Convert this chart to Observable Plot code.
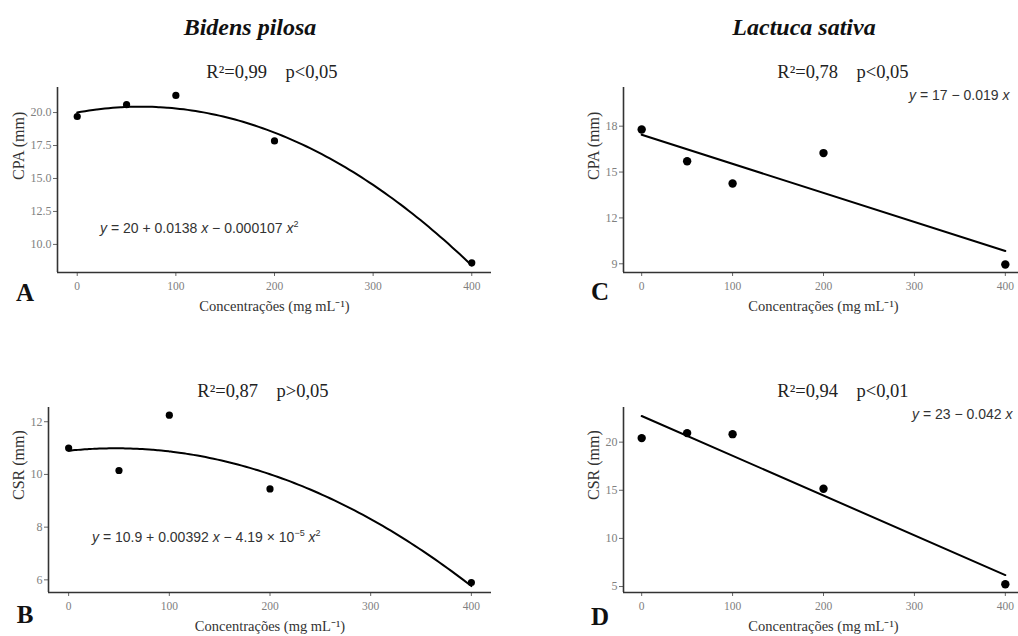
<!DOCTYPE html>
<html>
<head>
<meta charset="utf-8">
<script src="https://cdn.jsdelivr.net/npm/d3@7"></script>
<script src="https://cdn.jsdelivr.net/npm/@observablehq/plot@0.6"></script>
<style>
  html, body { margin: 0; padding: 0; background: #fff; }
  body { width: 1018px; height: 636px; position: relative; overflow: hidden; font-family: "Liberation Serif", serif; }
  .abs { position: absolute; white-space: pre; }
  .title { font-weight: bold; font-style: italic; font-size: 24px; color: #111; transform: translate(-50%, -50%); }
  .stat { font-size: 18.5px; color: #222; transform: translate(-50%, -50%); }
  .letter { font-weight: bold; font-size: 25px; color: #111; transform: translate(-50%, -50%); }
  .eq { font-family: "Liberation Sans", Arial, sans-serif; font-size: 14px; color: #333; transform: translateY(-50%); }
  .eq sup { font-size: 9px; vertical-align: 6px; line-height: 0; }
  .panel { position: absolute; }
</style>
</head>
<body>
<script>
// ---- data ----
const concentrations = [0, 50, 100, 200, 400];
const xTicks = [0, 100, 200, 300, 400];
const cpaBidens = [19.7, 20.6, 21.3, 17.85, 8.6];
const csrBidens = [11.0, 10.15, 12.25, 9.45, 5.9];
const cpaLactuca = [17.78, 15.71, 14.25, 16.24, 8.95];
const csrLactuca = [20.42, 20.94, 20.83, 15.16, 5.24];
// quadratic fit coefficients shown on the chart (Bidens pilosa)
const cpaBidensFit = [20, 0.0138, -0.000107];
const csrBidensFit = [10.9, 0.00392, -4.19e-5];
const yTicksA = [10, 12.5, 15, 17.5, 20];
const yTicksB = [6, 8, 10, 12];
const yTicksC = [9, 12, 15, 18];
const yTicksD = [5, 10, 15, 20];
const xLabel = "Concentrações (mg mL⁻¹)";

const SERIF = "Liberation Serif, Times New Roman, serif";

function rows(values) { return concentrations.map((x, i) => ({x, y: values[i]})); }
function quadCurve(c) {
  return d3.range(0, 401, 4).map(x => ({x, y: c[0] + c[1] * x + c[2] * x * x}));
}

function panel({left, top, width, height, margin, yDomain, yTicks, yFormat, yLabel, yLabelDx, data, fit, linear, r}) {
  const marks = [
    Plot.axisX(xTicks, {tickSize: 4, tickPadding: 5, fontSize: 11.5, fontFamily: SERIF, stroke: "#666", fill: "#808080", label: null}),
    Plot.axisY(yTicks, {tickSize: 4, tickPadding: 2, fontSize: 12, fontFamily: SERIF, stroke: "#666", fill: "#808080", label: null, tickFormat: yFormat}),
    Plot.ruleY([yDomain[0]], {stroke: "#333", strokeWidth: 1.6}),
    Plot.ruleX([-20], {stroke: "#333", strokeWidth: 1.6}),
    Plot.text([xLabel], {text: d => d, frameAnchor: "bottom", dy: 38, fontSize: 14.5, fontFamily: SERIF, fill: "#333"}),
    Plot.text([yLabel], {text: d => d, frameAnchor: "left", dx: yLabelDx, rotate: -90, fontSize: 16, fontFamily: SERIF, fill: "#333"})
  ];
  if (linear) {
    marks.push(Plot.linearRegressionY(data, {x: "x", y: "y", ci: 0, stroke: "#000", strokeWidth: 2}));
  } else {
    marks.push(Plot.line(fit, {x: "x", y: "y", stroke: "#000", strokeWidth: 2, curve: "natural"}));
  }
  marks.push(Plot.dot(data, {x: "x", y: "y", r, fill: "#000", stroke: "none"}));
  const svg = Plot.plot({
    width, height,
    marginLeft: margin[0], marginTop: margin[1], marginRight: margin[2], marginBottom: margin[3],
    style: {fontFamily: SERIF, background: "transparent", overflow: "visible"},
    x: {domain: [-20, 420]},
    y: {domain: yDomain},
    marks
  });
  svg.classList.add("panel");
  svg.style.left = left + "px";
  svg.style.top = top + "px";
  document.body.appendChild(svg);
}

panel({left: 0, top: 40, width: 509, height: 280, margin: [57, 47, 18, 48],
  yDomain: [7.87, 21.9], yTicks: yTicksA, yFormat: d3.format(".1f"), yLabel: "CPA (mm)", yLabelDx: -39,
  data: rows(cpaBidens), fit: quadCurve(cpaBidensFit), linear: false, r: 3.6});
panel({left: 0, top: 360, width: 509, height: 276, margin: [48, 47, 18, 44],
  yDomain: [5.52, 12.54], yTicks: yTicksB, yFormat: d3.format("d"), yLabel: "CSR (mm)", yLabelDx: -30,
  data: rows(csrBidens), fit: quadCurve(csrBidensFit), linear: false, r: 3.6});
panel({left: 509, top: 40, width: 520, height: 280, margin: [114, 47, 6, 48],
  yDomain: [8.43, 20.53], yTicks: yTicksC, yFormat: d3.format("d"), yLabel: "CPA (mm)", yLabelDx: -30,
  data: rows(cpaLactuca), linear: true, r: 4.2});
panel({left: 509, top: 360, width: 520, height: 276, margin: [114, 47, 6, 44],
  yDomain: [4.38, 23.6], yTicks: yTicksD, yFormat: d3.format("d"), yLabel: "CSR (mm)", yLabelDx: -30,
  data: rows(csrLactuca), linear: true, r: 4.2});

const labels = [
  {cls: "title", x: 250, y: 27, html: "Bidens pilosa"},
  {cls: "title", x: 804, y: 27, html: "Lactuca sativa"},
  {cls: "stat", x: 272, y: 72, html: "R²=0,99    p&lt;0,05"},
  {cls: "stat", x: 263, y: 391, html: "R²=0,87    p&gt;0,05"},
  {cls: "stat", x: 843, y: 72, html: "R²=0,78    p&lt;0,05"},
  {cls: "stat", x: 843, y: 391, html: "R²=0,94    p&lt;0,01"},
  {cls: "letter", x: 25, y: 293, html: "A"},
  {cls: "letter", x: 25, y: 615, html: "B"},
  {cls: "letter", x: 600, y: 292, html: "C"},
  {cls: "letter", x: 600, y: 617, html: "D"},
  {cls: "eq", x: 100, y: 228, html: "<i>y</i> = 20 + 0.0138 <i>x</i> − 0.000107 <i>x</i><sup>2</sup>"},
  {cls: "eq", x: 92, y: 537, html: "<i>y</i> = 10.9 + 0.00392 <i>x</i> − 4.19 × 10<sup>−5</sup> <i>x</i><sup>2</sup>"},
  {cls: "eq", x: 909, y: 95, html: "<i>y</i> = 17 − 0.019 <i>x</i>"},
  {cls: "eq", x: 912, y: 414, html: "<i>y</i> = 23 − 0.042 <i>x</i>"}
];
for (const l of labels) {
  const div = document.createElement("div");
  div.className = "abs " + l.cls;
  div.style.left = l.x + "px";
  div.style.top = l.y + "px";
  div.innerHTML = l.html;
  document.body.appendChild(div);
}
</script>
</body>
</html>
